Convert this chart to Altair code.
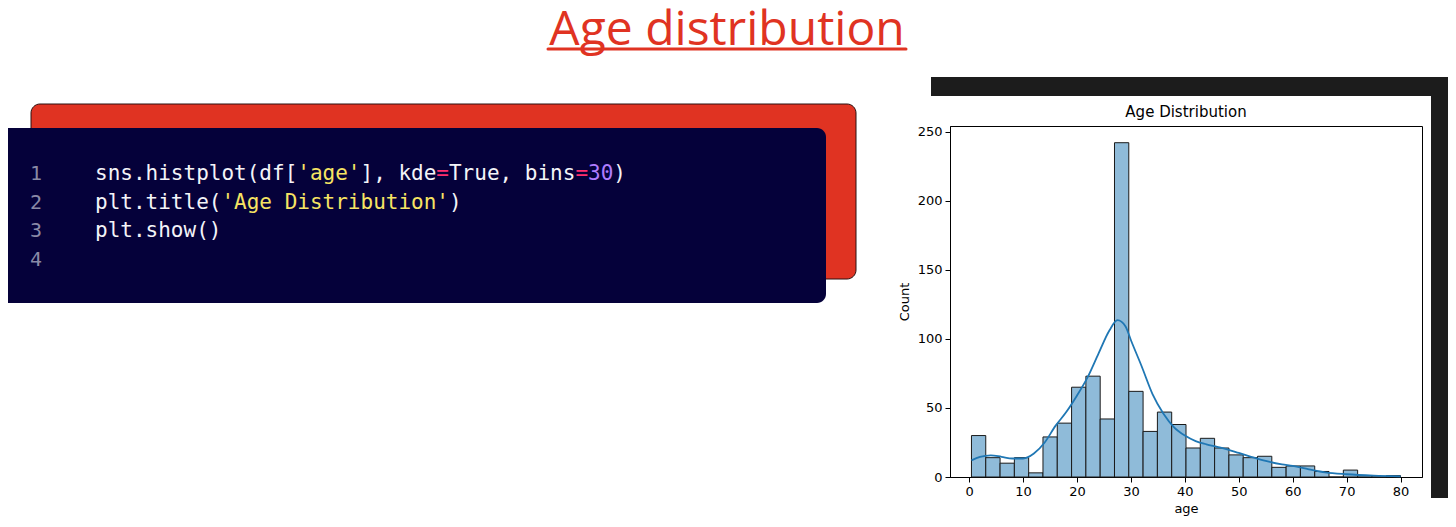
import altair as alt
import numpy as np
import pandas as pd

# ---------------- data ----------------
AGE_MIN = 0.42
AGE_MAX = 80.0
N_BINS = 30
counts = [30, 14, 10, 14, 3, 29, 39, 65, 73, 42, 242, 62, 33, 47, 38,
          21, 28, 21, 16, 14, 15, 7, 8, 8, 4, 0, 5, 1, 0, 1]

kde_age = [0.42, 2, 4, 6, 8, 10, 12, 14, 16, 18, 20, 22, 24, 26, 27.5, 29, 30,
           32, 34, 36, 38, 40, 42, 44, 46, 48, 50, 52, 55, 58, 60, 63, 66, 70, 75, 80]
kde_count = [12, 14.5, 15.7, 14.6, 13.4, 13.4, 17, 25, 37, 47, 59, 72.5, 89.5, 106,
             113.5, 109, 99, 80, 60, 46, 36, 30, 26, 23.7, 21.8, 19.8, 17.4, 15,
             11.6, 9.2, 8, 5.6, 3.4, 2, 1, 0.5]

x_ticks = [0, 10, 20, 30, 40, 50, 60, 70, 80]
y_ticks = [0, 50, 100, 150, 200, 250]

heading = "Age distribution"
chart_title = "Age Distribution"
x_label = "age"
y_label = "Count"

line_numbers = ["1", "2", "3", "4"]
# code tokens: (line index, column, text, role)
code_tokens = [
    (0, 0, "sns.histplot(df[", "plain"),
    (0, 16, "'age'", "string"),
    (0, 21, "], kde", "plain"),
    (0, 27, "=", "op"),
    (0, 28, "True, bins", "plain"),
    (0, 38, "=", "op"),
    (0, 39, "30", "number"),
    (0, 41, ")", "plain"),
    (1, 0, "plt.title(", "plain"),
    (1, 10, "'Age Distribution'", "string"),
    (1, 28, ")", "plain"),
    (2, 0, "plt.show()", "plain"),
]
role_colors = {"plain": "#f4f4f8", "string": "#f7e463", "op": "#ff2e6e", "number": "#b07cff"}

edges = np.linspace(AGE_MIN, AGE_MAX, N_BINS + 1)
hist_df = pd.DataFrame({"start": edges[:-1], "end": edges[1:], "count": counts})
kde_df = pd.DataFrame({"age": kde_age, "count": kde_count})

# ---------------- layout (page pixel -> plot coords) ----------------
OX, OY = 950, 126          # plot-area origin on the page
W, H = 472, 351


def px(x):
    return x - OX


def py(y):
    return y - OY


one = pd.DataFrame({"a": [0]})


def rect(x1, y1, x2, y2, color, radius=0, stroke=None):
    kw = dict(color=color, cornerRadius=radius)
    if stroke:
        kw.update(stroke=stroke, strokeWidth=1)
    return alt.Chart(one).mark_rect(**kw).encode(
        x=alt.value(px(x1)), x2=alt.value(px(x2)),
        y=alt.value(py(y1)), y2=alt.value(py(y2)))


layers = []
# black frame behind the chart picture
layers.append(rect(931, 77, 1460, 96, "#1c1c1c"))
layers.append(rect(1431, 77, 1460, 498, "#1c1c1c"))
# code card
layers.append(rect(31, 104, 856, 279, "#e03322", radius=9, stroke="#2a1010"))
layers.append(rect(0, 128, 826, 303, "#05013a", radius=9))

LINE_Y = [174, 202.7, 231.4, 260]
CODE_X0 = 95
CODE_FS = 21
CW = 0.602 * CODE_FS
for i, n in enumerate(line_numbers):
    layers.append(alt.Chart(one).mark_text(
        text=n, font="DejaVu Sans Mono", fontSize=20, color="#8a8aa6",
        align="center", baseline="middle").encode(
        x=alt.value(px(36)), y=alt.value(py(LINE_Y[i]))))
for ln, col, txt, role in code_tokens:
    layers.append(alt.Chart(one).mark_text(
        text=txt, font="DejaVu Sans Mono", fontSize=CODE_FS, color=role_colors[role],
        align="left", baseline="middle").encode(
        x=alt.value(px(CODE_X0 + col * CW)), y=alt.value(py(LINE_Y[ln]))))

# heading
layers.append(alt.Chart(one).mark_text(
    text=heading, font="Open Sans", fontSize=48, color="#e03322",
    align="center", baseline="alphabetic").encode(
    x=alt.value(px(727)), y=alt.value(py(45))))
layers.append(alt.Chart(one).mark_rule(color="#e03322", strokeWidth=3, strokeCap="round").encode(
    x=alt.value(px(548)), x2=alt.value(px(906)), y=alt.value(py(49))))

# chart title (drawn as text so it sits right above the plot frame)
layers.append(alt.Chart(one).mark_text(
    text=chart_title, font="DejaVu Sans", fontSize=15, color="#000000",
    align="center", baseline="middle").encode(
    x=alt.value(W / 2), y=alt.value(py(112))))

# histogram
xscale = alt.Scale(domain=[-3.56, 83.98], nice=False, zero=False)
yscale = alt.Scale(domain=[0, 254.1], nice=False)

bars = alt.Chart(hist_df).mark_rect(color="#8fbbd9", stroke="#1a1a1a", strokeWidth=1).encode(
    x=alt.X("start:Q", scale=xscale,
            axis=alt.Axis(values=x_ticks, title=x_label, format="d")),
    x2="end:Q",
    y=alt.Y("count:Q", scale=yscale,
            axis=alt.Axis(values=y_ticks, title=y_label, format="d")),
    y2=alt.datum(0),
)
kde = alt.Chart(kde_df).mark_line(color="#1f77b4", strokeWidth=1.8, interpolate="monotone").encode(
    x="age:Q", y="count:Q")
layers += [bars, kde]

chart = alt.layer(*layers).properties(
    width=W, height=H,
    autosize=alt.AutoSizeParams(type="none"),
    padding={"left": 942, "top": 118, "right": 26, "bottom": 42},
    background="white",
).configure_view(
    stroke="#000000", strokeWidth=1
).configure_axis(
    grid=False, domainColor="#000000", tickColor="#000000", tickSize=5,
    labelColor="#000000", labelFont="DejaVu Sans", labelFontSize=13, labelPadding=3,
    titleFont="DejaVu Sans", titleFontSize=13, titleFontWeight="normal", titleColor="#000000",
    zindex=1,
).configure_axisY(titlePadding=6).configure_axisX(titlePadding=4)

chart.save("out.html", embed_options={"renderer": "svg", "actions": False})
